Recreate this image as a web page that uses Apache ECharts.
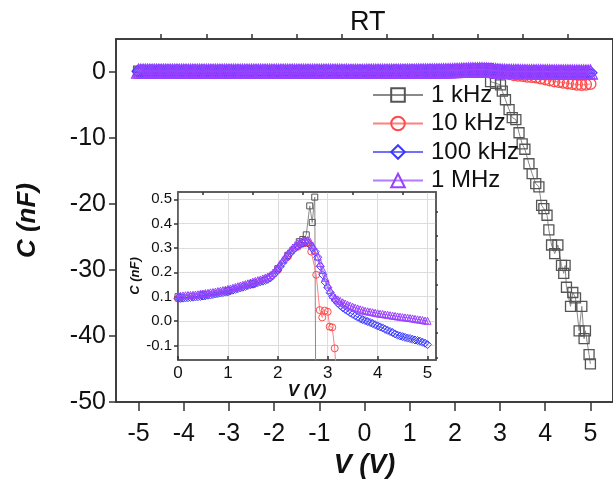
<!DOCTYPE html>
<html><head><meta charset="utf-8">
<script src="https://cdn.jsdelivr.net/npm/echarts@6/dist/echarts.min.js"></script>
<style>html,body{margin:0;padding:0;background:#fff}#c{width:613px;height:484px}</style>
</head><body><div id="c"></div>
<script>
// ---------- data (V in volts, C in nF) ----------
const vNeg = [-5,-4.95,-4.9,-4.85,-4.8,-4.75,-4.7,-4.65,-4.6,-4.55,-4.5,-4.45,-4.4,-4.35,-4.3,-4.25,-4.2,-4.15,-4.1,-4.05,
  -4,-3.95,-3.9,-3.85,-3.8,-3.75,-3.7,-3.65,-3.6,-3.55,-3.5,-3.45,-3.4,-3.35,-3.3,-3.25,-3.2,-3.15,-3.1,-3.05,
  -3,-2.95,-2.9,-2.85,-2.8,-2.75,-2.7,-2.65,-2.6,-2.55,-2.5,-2.45,-2.4,-2.35,-2.3,-2.25,-2.2,-2.15,-2.1,-2.05,
  -2,-1.95,-1.9,-1.85,-1.8,-1.75,-1.7,-1.65,-1.6,-1.55,-1.5,-1.45,-1.4,-1.35,-1.3,-1.25,-1.2,-1.15,-1.1,-1.05,
  -1,-0.95,-0.9,-0.85,-0.8,-0.75,-0.7,-0.65,-0.6,-0.55,-0.5,-0.45,-0.4,-0.35,-0.3,-0.25,-0.2,-0.15,-0.1,-0.05];
const vPos = [0,0.05,0.1,0.15,0.2,0.25,0.3,0.35,0.4,0.45,0.5,0.55,0.6,0.65,0.7,0.75,0.8,0.85,0.9,0.95,
  1,1.05,1.1,1.15,1.2,1.25,1.3,1.35,1.4,1.45,1.5,1.55,1.6,1.65,1.7,1.75,1.8,1.85,1.9,1.95,
  2,2.05,2.1,2.15,2.2,2.25,2.3,2.35,2.4,2.45,2.5,2.55,2.6,2.65,2.7,2.75,2.8,2.85,2.9,2.95,
  3,3.05,3.1,3.15,3.2,3.25,3.3,3.35,3.4,3.45,3.5,3.55,3.6,3.65,3.7,3.75,3.8,3.85,3.9,3.95,
  4,4.05,4.1,4.15,4.2,4.25,4.3,4.35,4.4,4.45,4.5,4.55,4.6,4.65,4.7,4.75,4.8,4.85,4.9,4.95,5];

const c1MHzNeg = [0.125,0.126,0.125,0.124,0.125,0.124,0.124,0.123,0.124,0.123,0.123,0.122,0.123,0.122,0.122,0.121,0.122,0.121,0.121,0.120,
  0.121,0.120,0.120,0.119,0.120,0.119,0.119,0.118,0.119,0.118,0.118,0.117,0.118,0.117,0.117,0.116,0.117,0.116,0.116,0.115,
  0.116,0.115,0.115,0.114,0.115,0.114,0.114,0.113,0.114,0.113,0.113,0.112,0.113,0.112,0.112,0.111,0.112,0.111,0.111,0.110,
  0.111,0.110,0.110,0.109,0.110,0.109,0.109,0.108,0.109,0.108,0.108,0.107,0.108,0.107,0.107,0.106,0.107,0.106,0.106,0.105,
  0.106,0.105,0.105,0.105,0.105,0.104,0.104,0.104,0.104,0.104,0.104,0.103,0.104,0.103,0.103,0.103,0.103,0.103,0.103,0.103];
const c1MHzPos = [0.103,0.104,0.105,0.106,0.107,0.107,0.108,0.109,0.110,0.112,0.113,0.115,0.116,0.118,0.119,0.121,0.123,0.125,0.127,0.129,
  0.132,0.134,0.137,0.140,0.143,0.146,0.149,0.152,0.155,0.158,0.162,0.165,0.168,0.171,0.175,0.179,0.183,0.189,0.198,0.209,
  0.221,0.236,0.250,0.264,0.278,0.291,0.302,0.312,0.320,0.326,0.330,0.333,0.333,0.325,0.310,0.290,0.265,0.238,0.210,0.178,
  0.150,0.127,0.108,0.096,0.089,0.083,0.077,0.072,0.067,0.063,0.059,0.055,0.052,0.048,0.045,0.042,0.040,0.038,0.036,0.034,
  0.032,0.030,0.029,0.027,0.026,0.024,0.022,0.021,0.019,0.018,0.016,0.015,0.014,0.012,0.011,0.009,0.007,0.006,0.004,0.002,0.001];

const c100kNeg = [0.113,0.114,0.113,0.112,0.113,0.112,0.112,0.111,0.112,0.111,0.111,0.110,0.111,0.110,0.110,0.109,0.110,0.109,0.109,0.108,
  0.109,0.108,0.108,0.107,0.108,0.107,0.107,0.106,0.107,0.106,0.106,0.105,0.106,0.105,0.105,0.104,0.105,0.104,0.104,0.103,
  0.104,0.103,0.103,0.102,0.103,0.102,0.102,0.101,0.102,0.101,0.101,0.100,0.101,0.100,0.100,0.099,0.100,0.099,0.099,0.098,
  0.099,0.098,0.098,0.097,0.098,0.097,0.097,0.096,0.097,0.096,0.096,0.096,0.096,0.095,0.096,0.095,0.095,0.095,0.095,0.094,
  0.095,0.094,0.094,0.094,0.094,0.094,0.094,0.093,0.094,0.093,0.093,0.093,0.093,0.093,0.093,0.093,0.093,0.093,0.093,0.093];
const c100kPos = [0.093,0.093,0.094,0.095,0.096,0.097,0.098,0.099,0.100,0.101,0.103,0.104,0.106,0.107,0.109,0.111,0.113,0.115,0.117,0.119,
  0.121,0.124,0.127,0.130,0.133,0.136,0.139,0.142,0.146,0.149,0.152,0.155,0.158,0.161,0.164,0.167,0.171,0.177,0.187,0.198,
  0.210,0.225,0.240,0.254,0.267,0.279,0.290,0.300,0.309,0.315,0.320,0.322,0.322,0.312,0.298,0.285,0.262,0.225,0.190,0.160,
  0.138,0.117,0.100,0.086,0.074,0.064,0.055,0.048,0.041,0.034,0.028,0.022,0.016,0.010,0.006,0.002,-0.002,-0.006,-0.010,-0.015,
  -0.020,-0.024,-0.028,-0.034,-0.038,-0.043,-0.047,-0.053,-0.058,-0.061,-0.064,-0.067,-0.070,-0.072,-0.075,-0.078,-0.080,-0.083,-0.087,-0.091,-0.097];

const v10k = [-5,-4,-3,-2,-1,0,0.5,1,1.5,2,2.2,2.4,2.5,2.6,2.67,2.77,2.84,2.89,2.94,3.0,
  3.04,3.09,3.14,3.2,3.3,3.4,3.5,3.6,3.7,3.8,3.9,4.0,4.1,4.2,4.3,4.4,4.5,4.6,4.7,4.8,4.9,5.0];
const c10k = [0.1,0.1,0.1,0.095,0.095,0.092,0.102,0.12,0.15,0.21,0.265,0.305,0.318,0.32,0.285,0.19,0.045,0.015,0.043,0.038,
  -0.023,-0.026,-0.112,-0.3,-0.45,-0.55,-0.6,-0.7,-0.75,-0.8,-0.95,-1.1,-1.25,-1.4,-1.5,-1.6,-1.7,-1.8,-1.9,-1.95,-1.9,-1.8];

const v1k = [-5,-4.5,-4,-3.5,-3,-2.5,-2,-1.5,-1,-0.5,0,0.5,1,1.5,2,2.2,2.43,2.5,2.57,2.64,2.69,2.74,
  2.79,2.9,3.01,3.05,3.12,3.2,3.27,3.35,3.42,3.49,3.55,3.64,3.71,3.79,3.86,3.92,3.97,4.04,4.08,4.14,
  4.21,4.28,4.36,4.41,4.44,4.47,4.56,4.61,4.67,4.75,4.81,4.86,4.89,4.97,5.0];
const c1k = [0.12,0.12,0.12,0.12,0.115,0.115,0.11,0.11,0.105,0.1,0.1,0.11,0.125,0.155,0.215,0.27,0.326,0.335,0.354,0.473,0.405,0.509,
  -1.45,-1.7,-1.95,-2.9,-4.2,-5.7,-6.9,-7.2,-9.2,-10.9,-11.7,-13.9,-15.4,-16.9,-17.4,-20.2,-20.7,-21.7,-23.9,-26.2,
  -27.5,-26.2,-29.3,-30.5,-29.3,-32.6,-35.5,-33.4,-34.2,-39.2,-35.5,-40.4,-39.2,-42.8,-44.2];

const seriesNames = ['1 kHz','10 kHz','100 kHz','1 MHz'];
const mainXTicks = [-5,-4,-3,-2,-1,0,1,2,3,4,5];
const mainXMinor = [-4.5,-3.5,-2.5,-1.5,-0.5,0.5,1.5,2.5,3.5,4.5];
const mainYTicks = [-50,-40,-30,-20,-10,0];
const mainYMinor = [-45,-35,-25,-15,-5];
const insetXTicks = [0,1,2,3,4,5];
const insetXMinor = [0.5,1.5,2.5,3.5,4.5];
const insetYTicks = [-0.1,0,0.1,0.2,0.3,0.4,0.5];
const insetYMinor = [-0.15,-0.05,0.05,0.15,0.25,0.35,0.45];

// ---------- build ----------
function pairs(v, c) { return v.map((x, i) => [x, c[i]]); }
const dataSets = [
  pairs(v1k, c1k),
  pairs(v10k, c10k),
  pairs(vNeg.concat(vPos), c100kNeg.concat(c100kPos)),
  pairs(vNeg.concat(vPos), c1MHzNeg.concat(c1MHzPos))
];
const looks = [
  {symbol:'rect', border:'#555555', line:'#8a8a8a', main:10, inset:6},
  {symbol:'circle', border:'#ff4a4a', line:'#ff8080', main:11, inset:7},
  {symbol:'diamond', border:'#3a3aff', line:'#7070ff', main:13, inset:8},
  {symbol:'triangle', border:'#9a40ff', line:'#b27cff', main:14, inset:7}
];
const FONT = 'Liberation Sans, Arial, sans-serif';
const series = [];
seriesNames.forEach((name, i) => {
  const L = looks[i];
  [['main',0],['inset',2]].forEach(([kind, ax]) => {
    series.push({
      name: name, type: 'line', xAxisIndex: ax, yAxisIndex: ax,
      data: dataSets[i], symbol: L.symbol, symbolSize: L[kind],
      showSymbol: true, clip: true, animation: false, z: 2 + i,
      lineStyle: {color: L.line, width: 1},
      itemStyle: {color: 'rgba(255,255,255,0)', borderColor: L.border, borderWidth: kind === 'main' ? 1.3 : 1},
      emphasis: {disabled: true}
    });
  });
});

const axCol = '#333';
function tickAxis(grid, min, max, vals, len, inside, extra) {
  return Object.assign({
    type: 'value', gridIndex: grid, min: min, max: max,
    axisLine: {show: true, onZero: false, lineStyle: {color: axCol, width: 1.5}},
    axisTick: {show: true, customValues: vals, length: len, inside: inside, lineStyle: {color: axCol, width: 1.5}},
    axisLabel: {show: false},
    splitLine: {show: false}, minorTick: {show: false}
  }, extra || {});
}

const chart = echarts.init(document.getElementById('c'), null, {renderer: 'canvas'});
chart.setOption({
  animation: false,
  backgroundColor: '#fff',
  textStyle: {fontFamily: FONT},
  title: {text: 'RT', left: 345, top: 4, textStyle: {fontSize: 27, fontWeight: 'normal', color: '#111', fontFamily: FONT}},
  legend: {
    data: seriesNames, orient: 'vertical', left: 372, top: 83, padding: 0,
    itemWidth: 50, itemHeight: 17, itemGap: 4.5,
    textStyle: {fontSize: 24, color: '#111', fontFamily: FONT, padding: [0,0,0,3]},
    selectedMode: false
  },
  grid: [
    {left: 116, top: 39, width: 498, height: 367, show: true, borderColor: axCol, borderWidth: 1.5, containLabel: false},
    {left: 178, top: 192, width: 258, height: 168, show: true, backgroundColor: '#fff', borderColor: '#555', borderWidth: 1.5, containLabel: false}
  ],
  xAxis: [
    tickAxis(0, -5.5, 5.5, mainXTicks, 9, false, {
      axisLabel: {show: true, customValues: mainXTicks, fontSize: 25, color: '#111', margin: 20, fontFamily: FONT},
      name: 'V (V)', nameLocation: 'middle', nameGap: 46,
      nameTextStyle: {fontSize: 27, fontWeight: 'bold', fontStyle: 'italic', color: '#111', fontFamily: FONT}
    }),
    tickAxis(0, -5.5, 5.5, mainXMinor, 5, false),
    tickAxis(1, 0, 5.17, insetXTicks, 4, true, {
      axisLine: {show: true, onZero: false, lineStyle: {color: '#555', width: 1.5}},
      axisLabel: {show: true, customValues: insetXTicks, fontSize: 17, color: '#111', margin: 5, fontFamily: FONT},
      splitLine: {show: true, lineStyle: {color: '#dcdcdc', width: 1}},
      name: 'V (V)', nameLocation: 'middle', nameGap: 21,
      nameTextStyle: {fontSize: 17, fontWeight: 'bold', fontStyle: 'italic', color: '#111', fontFamily: FONT}
    }),
    tickAxis(1, 0, 5.17, insetXMinor, 3, true, {axisLine: {show: true, onZero: false, lineStyle: {color: '#555', width: 1.5}}})
  ],
  yAxis: [
    tickAxis(0, -50, 5, mainYTicks, 7, false, {
      axisLabel: {show: true, customValues: mainYTicks, fontSize: 25, color: '#111', margin: 10, fontFamily: FONT},
      name: 'C (nF)', nameLocation: 'middle', nameGap: 75,
      nameTextStyle: {fontSize: 26, fontWeight: 'bold', fontStyle: 'italic', color: '#111', fontFamily: FONT}
    }),
    tickAxis(0, -50, 5, mainYMinor, 4, false),
    tickAxis(1, -0.16, 0.53, insetYTicks, 4, false, {
      axisLine: {show: true, onZero: false, lineStyle: {color: '#555', width: 1.5}},
      axisLabel: {show: true, customValues: insetYTicks, fontSize: 15, color: '#111', margin: 6, fontFamily: FONT,
        formatter: v => (Math.abs(v) < 1e-9 ? 0 : v).toFixed(1)},
      splitLine: {show: true, lineStyle: {color: '#dcdcdc', width: 1}},
      name: 'C (nF)', nameLocation: 'middle', nameGap: 36,
      nameTextStyle: {fontSize: 13, fontWeight: 'bold', fontStyle: 'italic', color: '#111', fontFamily: FONT}
    }),
    tickAxis(1, -0.16, 0.53, insetYMinor, 2, false, {axisLine: {show: true, onZero: false, lineStyle: {color: '#555', width: 1.5}}})
  ],
  series: series
});
</script>
</body></html>
